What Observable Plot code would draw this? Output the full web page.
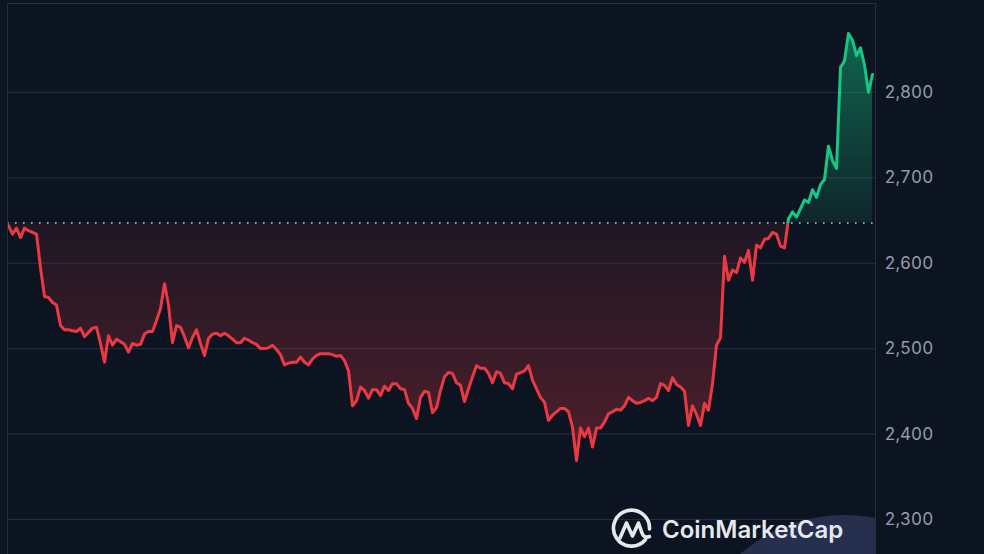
<!DOCTYPE html>
<html>
<head>
<meta charset="utf-8">
<script src="https://cdn.jsdelivr.net/npm/d3@7"></script>
<script src="https://cdn.jsdelivr.net/npm/@observablehq/plot@0.6"></script>
<style>
  html, body { margin: 0; padding: 0; background: #0d1421; overflow: hidden; }
  #wrap { position: relative; width: 984px; height: 554px; overflow: hidden; }
  #chart svg { display: block; }
  #blob { position: absolute; left: 7px; top: 3px; width: 868px; height: 551px; overflow: hidden; pointer-events: none; }
  #blob div { position: absolute; left: 677px; top: 512px; width: 322px; height: 322px; border-radius: 50%; background: #262f4e; }
  #mark { position: absolute; left: 0; top: 0; pointer-events: none; }
</style>
</head>
<body>
<div id="wrap">
  <div id="chart"></div>
  <div id="blob"><div></div></div>
  <svg id="mark" width="984" height="554">
    <g transform="translate(612,510)" fill="none" stroke="#e6e8ee" stroke-width="3.6" stroke-linecap="round" stroke-linejoin="round">
      <path d="M33.5 29.5 A18 18 0 1 1 37.5 19"/>
      <path d="M8 28 L14.5 13 L20.5 26 L26.5 13 L30 23 Q32 28.5 37.5 26.5"/>
    </g>
    <text x="662" y="538" fill="#e6e8ee" font-family="Inter, 'Open Sans', sans-serif" font-weight="600" font-size="24">CoinMarketCap</text>
  </svg>
</div>
<script>
// Price series (USD), sampled evenly in time
const prices = [
  2644, 2634, 2641, 2630, 2641, 2638, 2636, 2634, 2595, 2561,
  2560, 2554, 2551, 2527, 2522, 2522, 2521, 2520, 2524, 2514,
  2519, 2524, 2525, 2506, 2484, 2515, 2504, 2511, 2508, 2505,
  2496, 2506, 2504, 2505, 2517, 2520, 2520, 2533, 2547, 2576,
  2551, 2507, 2527, 2525, 2514, 2501, 2513, 2522, 2506, 2492,
  2512, 2517, 2518, 2515, 2518, 2515, 2511, 2507, 2507, 2512,
  2510, 2507, 2505, 2500, 2500, 2501, 2504, 2499, 2493, 2481,
  2483, 2484, 2484, 2490, 2484, 2481, 2488, 2492, 2494, 2494,
  2494, 2493, 2491, 2492, 2486, 2474, 2433, 2439, 2455, 2451,
  2442, 2452, 2452, 2445, 2456, 2451, 2459, 2459, 2453, 2452,
  2436, 2430, 2418, 2443, 2450, 2449, 2425, 2431, 2451, 2467,
  2472, 2471, 2460, 2457, 2438, 2453, 2467, 2480, 2477, 2477,
  2471, 2460, 2473, 2471, 2460, 2459, 2453, 2470, 2472, 2474,
  2480, 2463, 2453, 2443, 2437, 2416, 2422, 2426, 2430, 2430,
  2426, 2408, 2369, 2407, 2397, 2407, 2385, 2407, 2407, 2414,
  2424, 2426, 2429, 2428, 2433, 2443, 2439, 2436, 2437, 2439,
  2442, 2439, 2443, 2459, 2457, 2451, 2466, 2458, 2455, 2450,
  2410, 2433, 2423, 2410, 2436, 2428, 2459, 2504, 2513, 2608,
  2580, 2592, 2589, 2606, 2601, 2615, 2580, 2621, 2618, 2628,
  2629, 2636, 2634, 2620, 2618, 2652, 2660, 2654, 2664, 2674,
  2671, 2686, 2677, 2692, 2698, 2737, 2720, 2711, 2829, 2837,
  2869, 2861, 2843, 2852, 2832, 2800, 2821
];
const openPrice = 2647;            // reference (dotted) line
const yTicks = [2300, 2400, 2500, 2600, 2700, 2800];
const yDomain = [2259, 2904];

const upColor = "#16c784";
const downColor = "#ea3943";

const data = prices.map((p, i) => ({ i, p }));
const xDomain = [-0.25, prices.length - 0.25];

const chart = Plot.plot({
  width: 984,
  height: 554,
  marginTop: 3,
  marginBottom: 0,
  marginLeft: 7,
  marginRight: 109,
  style: { background: "#0d1421", color: "#959cae", fontFamily: "Inter, 'Open Sans', sans-serif", fontSize: "17px" },
  x: { domain: xDomain, axis: null },
  y: { domain: yDomain, axis: "right", ticks: yTicks, tickFormat: d3.format(","), tickSize: 0, tickPadding: 9, label: null },
  marks: [
    Plot.ruleY(yTicks, { stroke: "#262e3e", strokeWidth: 1 }),
    Plot.areaY(data, { x: "i", y1: () => openPrice, y2: "p", fill: "url(#areaGrad)" }),
    Plot.ruleY([openPrice], { stroke: "#c5c9d3", strokeWidth: 1.6, strokeDasharray: "1.6 6.4" }),
    Plot.lineY(data, { x: "i", y: "p", stroke: "url(#lineGrad)", strokeWidth: 3, strokeLinejoin: "round" }),
    Plot.ruleX(xDomain, { stroke: "#262e3e" }),
    Plot.ruleY([yDomain[1]], { stroke: "#262e3e" })
  ]
});

const y = chart.scale("y");
const yb = y.apply(openPrice);
const yTop = y.apply(d3.max(prices));
const yBot = y.apply(d3.min(prices));
const H = 554;

const defs = d3.select(chart).insert("defs", ":first-child");
const lg = defs.append("linearGradient")
  .attr("id", "lineGrad").attr("gradientUnits", "userSpaceOnUse")
  .attr("x1", 0).attr("x2", 0).attr("y1", 0).attr("y2", H);
lg.append("stop").attr("offset", 0).attr("stop-color", upColor);
lg.append("stop").attr("offset", yb / H).attr("stop-color", upColor);
lg.append("stop").attr("offset", yb / H).attr("stop-color", downColor);
lg.append("stop").attr("offset", 1).attr("stop-color", downColor);

const f = (yb - yTop) / (yBot - yTop);
const ag = defs.append("linearGradient")
  .attr("id", "areaGrad").attr("gradientUnits", "userSpaceOnUse")
  .attr("x1", 0).attr("x2", 0).attr("y1", yTop).attr("y2", yBot);
ag.append("stop").attr("offset", 0).attr("stop-color", upColor).attr("stop-opacity", 0.45);
ag.append("stop").attr("offset", f).attr("stop-color", upColor).attr("stop-opacity", 0.1);
ag.append("stop").attr("offset", f).attr("stop-color", downColor).attr("stop-opacity", 0.08);
ag.append("stop").attr("offset", 1).attr("stop-color", downColor).attr("stop-opacity", 0.3);

document.getElementById("chart").appendChild(chart);
</script>
</body>
</html>
